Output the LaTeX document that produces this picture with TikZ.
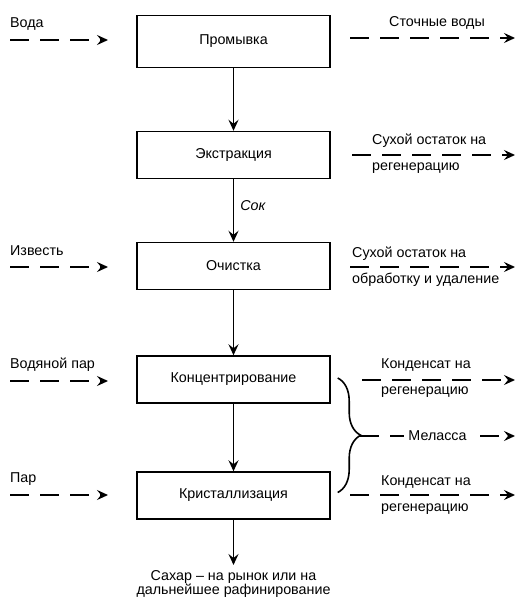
\documentclass[tikz,border=0pt]{standalone}
\usepackage{fontspec}
\setmainfont{Liberation Sans}
\usetikzlibrary{arrows.meta,calc,decorations.pathreplacing,positioning}
\tikzset{
  proc box/.style={draw,line width=1.4pt,minimum width=193pt,minimum height=47pt,inner sep=0pt},
  main flow/.style={-{Stealth[length=11pt,width=10pt,inset=4pt]},line width=1.8pt},
  side flow/.style={main flow,dash pattern=on 19pt off 11pt},
  flow label/.style={inner sep=0pt},
  sugar brace/.style={decorate,decoration={brace,amplitude=23pt},line width=1.6pt},
}

\begin{document}
\begin{tikzpicture}[x=1pt,y=-1pt, every node/.style={font=\fontsize{14.3}{14}\selectfont}]
  \useasboundingbox (0,0) rectangle (516,604);
  % process steps
  \node[proc box,minimum height=52pt] (wash) at (233.5,41.5) {Промывка};
  \node[proc box] (extract) at (233.5,155) {Экстракция};
  \node[proc box] (purify) at (233.5,266) {Очистка};
  \node[proc box] (concent) at (233.5,379.5) {Концентрирование};
  \node[proc box] (cryst) at (233.5,495.5) {Кристаллизация};
  \coordinate (sugar) at (233.5,565);
  \draw[main flow] (wash) -- (extract);
  \draw[main flow] (extract) -- node[flow label,right,xshift=6pt,yshift=5pt]{\itshape Сок} (purify);
  \draw[main flow] (purify) -- (concent);
  \draw[main flow] (concent) -- (cryst);
  \draw[main flow] (cryst) -- (sugar);
  \node[below=5pt of sugar,align=center,inner sep=0pt] (sugar text)
    {Сахар -- на рынок или на\\дальнейшее рафинирование};

  % inputs
  \coordinate (voda in) at (10,40);      \coordinate (voda out) at (108,40);
  \coordinate (lime in) at (10,267);     \coordinate (lime out) at (108,267);
  \coordinate (steam in) at (10,381);    \coordinate (steam out) at (108,381);
  \coordinate (par in) at (10,495);      \coordinate (par out) at (108,495);
  \draw[side flow] (voda in) -- (voda out);
  \draw[side flow] (lime in) -- (lime out);
  \draw[side flow] (steam in) -- (steam out);
  \draw[side flow] (par in) -- (par out);
  \node[flow label,anchor=base west] (voda) at (10,28) {Вода};
  \node[flow label,anchor=base west] (lime) at (10,255) {Известь};
  \node[flow label,anchor=base west] (steam) at (10,368) {Водяной пар};
  \node[flow label,anchor=base west] (par) at (10,482) {Пар};

  % outputs
  \coordinate (waste in) at (350,38);    \coordinate (waste out) at (515,38);
  \coordinate (dry1 in) at (352,155);    \coordinate (dry1 out) at (515,155);
  \coordinate (dry2 in) at (350,267);    \coordinate (dry2 out) at (515,267);
  \coordinate (cond1 in) at (362,380);   \coordinate (cond1 out) at (515,380);
  \coordinate (cond2 in) at (350,495);   \coordinate (cond2 out) at (515,495);
  \draw[side flow] (waste in) -- (waste out);
  \draw[side flow] (dry1 in) -- (dry1 out);
  \draw[side flow] (dry2 in) -- (dry2 out);
  \draw[side flow] (cond1 in) -- (cond1 out);
  \draw[side flow] (cond2 in) -- (cond2 out);
  \node[flow label,anchor=base] (waste) at (437,27) {Сточные воды};
  \node[flow label,anchor=base west] (dry1 a) at (372,145) {Сухой остаток на};
  \node[flow label,anchor=base west] (dry1 b) at (372,170) {регенерацию};
  \node[flow label,anchor=base west] (dry2 a) at (352,257) {Сухой остаток на};
  \node[flow label,anchor=base west] (dry2 b) at (352,283) {обработку и удаление};
  \node[flow label,anchor=base west] (cond1 a) at (381,368) {Конденсат на};
  \node[flow label,anchor=base west] (cond1 b) at (381,394) {регенерацию};
  \node[flow label,anchor=base west] (cond2 a) at (381,485) {Конденсат на};
  \node[flow label,anchor=base west] (cond2 b) at (381,511) {регенерацию};

  % molasses
  \draw[sugar brace] ($(concent.east)+(7,-1.5)$) -- ($(cryst.east)+(7,-3)$);
  \coordinate (mel in) at (360,436);     \coordinate (mel out) at (515,436);
  \draw[side flow] (mel in) -- node[fill=white,inner xsep=4pt,inner ysep=1pt]{Меласса} (mel out);
\end{tikzpicture}
\end{document}
